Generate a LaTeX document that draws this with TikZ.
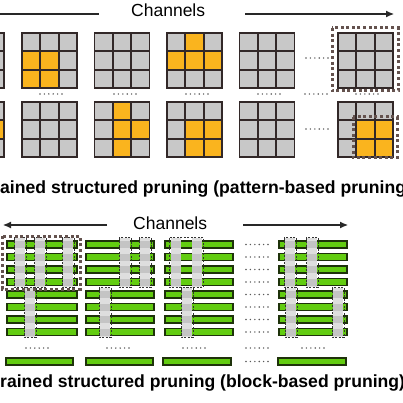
\documentclass[tikz,border=0pt]{standalone}
\usepackage{fontspec}
\setmainfont{Liberation Sans}
\usetikzlibrary{arrows.meta}
\definecolor{cellgray}{RGB}{200,200,200}
\definecolor{cellorange}{RGB}{250,180,30}
\definecolor{gline}{RGB}{50,40,40}
\definecolor{barfill}{RGB}{98,204,16}
\definecolor{barline}{RGB}{30,50,10}
\definecolor{stripgray}{RGB}{196,196,196}
\definecolor{stripbg}{RGB}{222,222,222}
\definecolor{boxbrown}{RGB}{100,82,78}
\definecolor{dotcol}{RGB}{90,90,90}
\definecolor{arrowcol}{RGB}{40,40,40}
\tikzset{
  gridln/.style={draw=gline,line width=1.8pt},
  barst/.style={draw=barline,fill=barfill,line width=1.1pt},
  thindash/.style={draw=black!80,line width=0.6pt,dash pattern=on 2pt off 1.5pt},
  thickdash/.style={draw=boxbrown,line width=3pt,dash pattern=on 3pt off 2.6pt},
  arrline/.style={draw=arrowcol,line width=1.1pt},
  arrtip/.style={-{Latex[length=8pt,width=7pt]}},
  chtext/.style={anchor=base west,inner sep=0pt,font=\fontsize{17.5}{20}\selectfont},
  captext/.style={anchor=base west,inner sep=0pt,font=\bfseries\fontsize{17.6}{20}\selectfont},
}
\newcommand\kgrid[2]{\fill[cellgray] (#1,#2) rectangle ++(55,55);}
\newcommand\korange[3]{\foreach \r/\c in {#3}{\fill[cellorange] ({#1+\c*18.333},{#2+\r*18.333}) rectangle ++(18.333,18.333);}}
\newcommand\klines[2]{\foreach \i in {1,2}{\draw[gridln] ({#1+\i*18.333},#2) -- ++(0,55); \draw[gridln] (#1,{#2+\i*18.333}) -- ++(55,0);}\draw[gridln] (#1,#2) rectangle ++(55,55);}
\newcommand\kdots[2]{\foreach \i in {0,...,5}{\fill[dotcol] ({#1+\i*4.4},#2) circle (0.8pt);}}
\newcommand\gbar[3]{\draw[barst] (#1,#3) rectangle (#2,{#3+7});}
% strip: x1, x2, first row index
\newcommand\kstrip[3]{%
  \fill[stripbg] (#1,{241+#3*12.5-3.5}) rectangle (#2,{241+(#3+3)*12.5+8.5});
  \foreach \k in {0,...,3}{\fill[stripgray] (#1,{241+(#3+\k)*12.5}) rectangle (#2,{241+(#3+\k)*12.5+7});}}
\newcommand\kstripbox[3]{\draw[thindash] ({#1-1},{241+#3*12.5-3.5}) rectangle ({#2+1},{241+(#3+3)*12.5+8.5});}
\begin{document}
\begin{tikzpicture}[x=1pt,y=-1pt]
\useasboundingbox (0,0) rectangle (403,403);
\clip (0,0) rectangle (403,403);
\fill[white] (0,0) rectangle (403,403);

% ---------- top: channel arrow ----------
\coordinate (a1s) at (-5,14);
\coordinate (a1e) at (99,14);
\coordinate (a2s) at (245,14);
\coordinate (a2e) at (394,14);
\draw[arrline] (a1s) -- (a1e);
\draw[arrline,arrtip] (a2s) -- (a2e);
\node[chtext] (ch1) at (131,17) {Channels};

% ---------- top: kernels ----------
% row 1
\kgrid{-51}{33}\klines{-51}{33}
\kgrid{22}{33}\korange{22}{33}{1/0,1/1,2/0,2/1}\klines{22}{33}
\kgrid{94.5}{33}\klines{94.5}{33}
\kgrid{167}{33}\korange{167}{33}{0/1,1/0,1/1,1/2}\klines{167}{33}
\kgrid{239.5}{33}\klines{239.5}{33}
\kgrid{338}{33}\klines{338}{33}
% row 2
\kgrid{-51}{102}\korange{-51}{102}{1/2}\klines{-51}{102}
\kgrid{22}{102}\klines{22}{102}
\kgrid{94.5}{102}\korange{94.5}{102}{0/1,1/1,1/2,2/1}\klines{94.5}{102}
\kgrid{167}{102}\korange{167}{102}{1/1,1/2,2/1,2/2}\klines{167}{102}
\kgrid{239.5}{102}\klines{239.5}{102}
\kgrid{338}{102}\korange{338}{102}{1/1,1/2,2/1,2/2}\klines{338}{102}
% pruned boxes
\draw[thickdash] (332,28) rectangle (398,91);
\draw[thickdash] (353,117) rectangle (397,158);
% dots
\kdots{40}{94}\kdots{114}{94}\kdots{186}{94}\kdots{258}{94}\kdots{305}{94}\kdots{356}{94}
\kdots{306}{58}\kdots{306}{129}

\node[captext] (cap1) at (0,193) {ained structured pruning (pattern-based pruning};

% ---------- bottom: channel arrows ----------
\coordinate (a3s) at (107,225);
\coordinate (a3e) at (3,225);
\coordinate (a4s) at (243,225);
\coordinate (a4e) at (348,225);
\draw[arrline,arrtip] (a3s) -- (a3e);
\draw[arrline,arrtip] (a4s) -- (a4e);
\node[chtext] (ch2) at (133,229) {Channels};

% ---------- bottom: bars ----------
\foreach \j in {0,...,7}{
  \gbar{7}{77}{241+\j*12.5}
  \gbar{86}{154}{241+\j*12.5}
  \gbar{165}{233}{241+\j*12.5}
  \gbar{279}{347}{241+\j*12.5}
  \kdots{246}{244.5+\j*12.5}
}
\gbar{6}{73}{358}
\gbar{86}{153}{358}
\gbar{163}{231}{358}
\gbar{278}{346}{358}
\kdots{246}{361.5}
\kdots{26}{348}\kdots{107}{348}\kdots{183}{348}\kdots{246}{348}\kdots{302}{348}

% strips (pruned blocks)
\kstrip{15}{25}{0}\kstrip{35}{45}{0}\kstrip{63}{73}{0}
\kstrip{25}{35}{4}
\kstrip{120}{130}{0}\kstrip{140}{150}{0}
\kstrip{100}{110}{4}
\kstrip{171}{181}{0}\kstrip{192}{202}{0}
\kstrip{182}{192}{4}
\kstrip{285}{295}{0}\kstrip{307}{317}{0}
\kstrip{286}{296}{4}\kstrip{333}{343}{4}
% dashed outlines
\kstripbox{15}{25}{0}\kstripbox{35}{45}{0}\kstripbox{63}{73}{0}
\kstripbox{25}{35}{4}
\kstripbox{120}{130}{0}\kstripbox{140}{150}{0}
\kstripbox{100}{110}{4}
\kstripbox{170}{202}{0}
\kstripbox{182}{192}{4}
\kstripbox{285}{295}{0}\kstripbox{307}{317}{0}
\kstripbox{286}{296}{4}\kstripbox{333}{343}{4}
\draw[thickdash] (2,236) rectangle (80,289);

\node[captext] (cap2) at (0,387) {rained structured pruning (block-based pruning)};
\end{tikzpicture}
\end{document}
